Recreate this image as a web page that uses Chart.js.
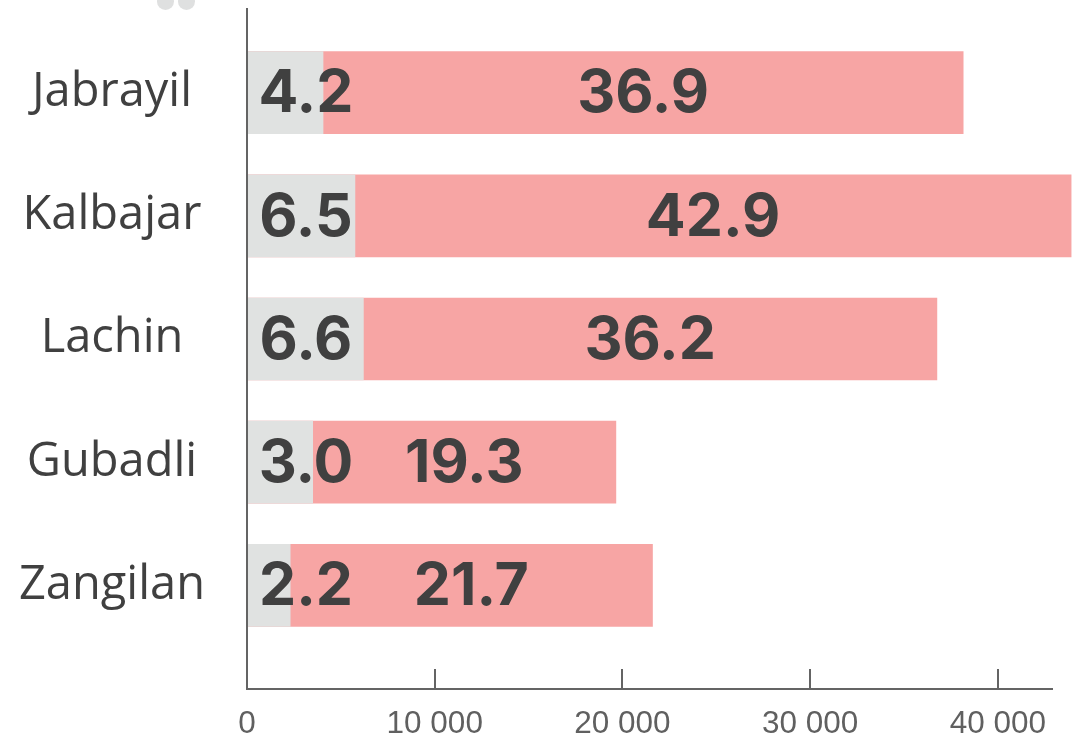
<!DOCTYPE html>
<html>
<head>
<meta charset="utf-8">
<script src="https://cdn.jsdelivr.net/npm/chart.js@4"></script>
<style>
  html, body { margin: 0; padding: 0; background: #fff; }
  #wrap { position: relative; width: 1073px; height: 738px; overflow: hidden; }
  .quote-dot {
    position: absolute; width: 17px; height: 17px; border-radius: 50%;
    background: #dfe0e0; top: -7px;
  }
</style>
</head>
<body>
<div id="wrap">
  <div class="quote-dot" style="left:157px"></div>
  <div class="quote-dot" style="left:178px"></div>
  <canvas id="bar-chart"></canvas>
</div>
<script>
const districts   = ['Jabrayil', 'Kalbajar', 'Lachin', 'Gubadli', 'Zangilan'];
const greyValues  = [4050, 5750, 6200, 3500, 2300];
const totalValues = [38150, 43900, 36750, 19650, 21600];
const greyLabels  = ['4.2', '6.5', '6.6', '3.0', '2.2'];
const pinkLabels  = ['36.9', '42.9', '36.2', '19.3', '21.7'];
const xTicks      = [0, 10000, 20000, 30000, 40000];

function formatThousands(value) {
  return String(value).replace(/\B(?=(\d{3})+(?!\d))/g, ' ');
}

// scales should not reserve room for half-labels at their ends
function noEdgePadding(scale) {
  scale.paddingTop = 0;
  scale.paddingBottom = 0;
  scale.paddingLeft = 0;
  scale.paddingRight = 0;
}

// axis lines + tick marks drawn a bit outside the plot area, like the original
const axisPlugin = {
  id: 'axisLines',
  afterDatasetsDraw(chart) {
    const { ctx, scales: { x } } = chart;
    const x0     = x.getPixelForValue(0);
    const axisY  = 689;
    ctx.save();
    ctx.strokeStyle = '#646464';
    ctx.lineWidth   = 2;
    ctx.beginPath();
    ctx.moveTo(x0, 8);
    ctx.lineTo(x0, axisY);
    ctx.lineTo(1053, axisY);
    xTicks.slice(1).forEach(v => {
      const px = Math.round(x.getPixelForValue(v));
      ctx.moveTo(px, axisY - 20);
      ctx.lineTo(px, axisY);
    });
    ctx.stroke();
    ctx.restore();
  },
};

const labelPlugin = {
  id: 'barLabels',
  afterDatasetsDraw(chart) {
    const { ctx } = chart;
    const greyMeta = chart.getDatasetMeta(0);
    const pinkMeta = chart.getDatasetMeta(1);
    ctx.save();
    ctx.fillStyle    = '#404040';
    ctx.font         = '700 59px Inter';
    ctx.textAlign    = 'center';
    ctx.textBaseline = 'middle';
    greyMeta.data.forEach((bar, i) => {
      ctx.fillText(greyLabels[i], bar.base + 59, bar.y + 2);
      const pinkBar = pinkMeta.data[i];
      ctx.fillText(pinkLabels[i], (bar.x + pinkBar.x) / 2, bar.y + 2);
    });
    ctx.restore();
  },
};

new Chart(document.getElementById('bar-chart'), {
  type: 'bar',
  data: {
    labels: districts,
    datasets: [
      {
        data: greyValues,
        backgroundColor: '#e0e2e1',
        grouped: false,
        barThickness: 82,
      },
      {
        data: totalValues,
        backgroundColor: '#f7a5a4',
        grouped: false,
        barThickness: 82,
      },
    ],
  },
  options: {
    indexAxis: 'y',
    responsive: true,
    maintainAspectRatio: false,
    animation: false,
    layout: { padding: { top: 31, right: 0, left: 0, bottom: 0 } },
    plugins: {
      legend: { display: false },
      tooltip: { enabled: false },
    },
    scales: {
      x: {
        min: 0,
        max: 44000,
        grid: { display: false },
        border: { display: false },
        afterFit: scale => { noEdgePadding(scale); scale.height = 91; },
        afterBuildTicks: scale => { scale.ticks = xTicks.map(v => ({ value: v })); },
        ticks: {
          padding: 50,
          color: '#606060',
          font: { family: 'Liberation Sans', size: 31.5 },
          maxRotation: 0,
          autoSkip: false,
          callback: v => formatThousands(v),
        },
      },
      y: {
        grid: { display: false },
        border: { display: false },
        afterFit: scale => { noEdgePadding(scale); scale.width = 247; },
        ticks: {
          crossAlign: 'center',
          padding: 34,
          color: '#404040',
          font: { family: 'Open Sans', size: 47 },
        },
      },
    },
  },
  plugins: [axisPlugin, labelPlugin],
});
</script>
</body>
</html>
